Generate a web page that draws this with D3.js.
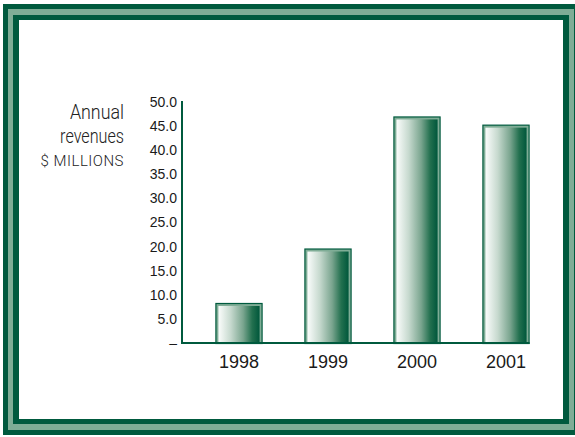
<!DOCTYPE html>
<html><head><meta charset="utf-8">
<script src="https://cdn.jsdelivr.net/npm/d3@7"></script>
<style>html,body{margin:0;padding:0;background:#fff;}svg{display:block;}</style>
</head><body>
<script>
const years = ["1998", "1999", "2000", "2001"];
const revenues = [8.3, 19.6, 47.0, 45.3];
const tickValues = [0, 5, 10, 15, 20, 25, 30, 35, 40, 45, 50];
const tickLabels = ["–", "5.0", "10.0", "15.0", "20.0", "25.0", "30.0", "35.0", "40.0", "45.0", "50.0"];
const titleLines = ["Annual", "revenues"];
const unitLabel = "$ MILLIONS";

const W = 575, H = 437;
const dark = "#005a3e", light = "#7fad96";
const svg = d3.select("body").append("svg").attr("width", W).attr("height", H);

// frame
const fr = [[3, 4, 576, 431, dark], [8, 9, 566, 421, light], [13, 15, 556, 409, dark], [19, 20, 544, 399, "#ffffff"]];
fr.forEach(f => svg.append("rect").attr("x", f[0]).attr("y", f[1]).attr("width", f[2]).attr("height", f[3]).attr("fill", f[4]));

const defs = svg.append("defs");
const g = defs.append("linearGradient").attr("id", "bg").attr("x1", "0").attr("x2", "1").attr("y1", "0").attr("y2", "0");
[[0, "#fbfdfc"], [0.3, "#c6d9ce"], [0.6, "#7aa58f"], [0.82, "#23704f"], [1, "#00573b"]]
  .forEach(s => g.append("stop").attr("offset", s[0]).attr("stop-color", s[1]));

const y = d3.scaleLinear().domain([0, 50]).range([343, 102]);
const x = d3.scaleBand().domain(years).range([194.5, 550.5]).paddingInner(0.47).paddingOuter(0.235);

// y axis
const yAxis = d3.axisLeft(y).tickValues(tickValues).tickSize(0).tickPadding(5)
  .tickFormat((d, i) => tickLabels[i]);
const ya = svg.append("g").attr("transform", "translate(182,0)").call(yAxis);
ya.select(".domain").remove();
ya.selectAll("text").attr("font-family", "Liberation Sans, Arial, sans-serif").attr("font-size", 14).attr("fill", "#1a1a1a");

// bars
const bars = svg.append("g");
years.forEach((yr, i) => {
  const bx = x(yr), bw = x.bandwidth(), by = y(revenues[i]), bh = y(0) - y(revenues[i]);
  bars.append("rect").attr("x", bx + 0.5).attr("y", by + 0.5).attr("width", bw - 1).attr("height", bh)
    .attr("fill", light).attr("stroke", dark).attr("stroke-width", 1.2);
  bars.append("rect").attr("x", bx + 3).attr("y", by + 3).attr("width", bw - 6).attr("height", bh - 3)
    .attr("fill", "url(#bg)");
});

// axis lines
svg.append("line").attr("x1", 182).attr("x2", 182).attr("y1", 101).attr("y2", 344).attr("stroke", dark).attr("stroke-width", 2);
svg.append("line").attr("x1", 181).attr("x2", x(years[3]) + x.bandwidth()).attr("y1", y(0)).attr("y2", y(0)).attr("stroke", dark).attr("stroke-width", 2);

// x labels
const xAxis = d3.axisBottom(x).tickSize(0).tickPadding(12);
const xa = svg.append("g").attr("transform", `translate(0,${y(0)})`).call(xAxis);
xa.select(".domain").remove();
xa.selectAll("text").attr("font-family", "Liberation Sans, Arial, sans-serif").attr("font-size", 18).attr("fill", "#1a1a1a");

// title
const tf = "Roboto, 'Liberation Sans', sans-serif";
[[titleLines[0], 119, 0.85], [titleLines[1], 143, 0.77]].forEach(t => {
  svg.append("text").attr("transform", `translate(124,${t[1]}) scale(${t[2]},1)`).attr("text-anchor", "end")
    .attr("font-family", tf).attr("font-weight", 300).attr("font-size", 21).attr("fill", "#222").text(t[0]);
});
svg.append("text").attr("x", 124).attr("y", 166).attr("text-anchor", "end").attr("font-family", tf)
  .attr("font-weight", 300).attr("letter-spacing", 0.5).attr("font-size", 15).attr("fill", "#222").text(unitLabel);
</script>
</body></html>
